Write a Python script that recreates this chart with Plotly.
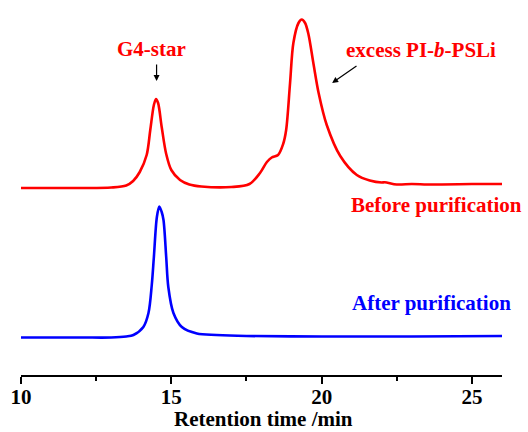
import plotly.graph_objects as go

# Retention time (min) and detector signal (arbitrary units, offset traces)
red_x = [10.0, 12.0, 13.0, 13.5, 13.73, 13.95, 14.18, 14.3, 14.42, 14.49, 14.56, 14.68, 14.83, 15.0,
         15.29, 15.6, 16.0, 17.0, 17.6, 17.95, 18.18, 18.34, 18.55, 18.72, 18.82, 18.95, 19.06,
         19.23, 19.34, 19.45, 19.56, 19.73, 19.9, 20.17, 20.62, 21.17, 21.6, 22.0, 22.1, 22.5,
         23.0, 23.5, 24.0, 25.0, 26.0]
red_v = [187, 187, 187.5, 189.5, 194, 203, 220, 245, 270, 276, 272, 248, 221, 205,
         195, 190.5, 188.5, 188, 191, 202, 213, 217.5, 220, 231, 245, 292, 332,
         352, 355.5, 352, 341, 311, 282, 250, 219, 200, 194.5, 192.5, 192.8, 190.5,
         191, 190.5, 190.5, 191, 191]

blue_x = [10.0, 12.0, 13.0, 13.5, 13.74, 14.07, 14.24, 14.35, 14.42, 14.52, 14.6, 14.68, 14.74,
          14.83, 14.9, 15.07, 15.35, 15.85, 16.5, 17.5, 20.0, 23.0, 26.0]
blue_v = [37.5, 37.5, 37.5, 38.5, 40, 48, 62, 90, 118, 158, 168.5, 163, 155,
          118, 88, 62, 48, 41.5, 40, 39, 38.5, 38.5, 39]

x_ticks = [10, 15, 20, 25]
x_title = "Retention time /min"

FONT = "Liberation Serif"

fig = go.Figure()
fig.add_trace(go.Scatter(x=red_x, y=red_v, mode="lines",
                         line=dict(color="#FF0000", width=2.6, shape="spline", smoothing=0.9),
                         showlegend=False, hoverinfo="skip"))
fig.add_trace(go.Scatter(x=blue_x, y=blue_v, mode="lines",
                         line=dict(color="#0000FF", width=2.6, shape="spline", smoothing=0.9),
                         showlegend=False, hoverinfo="skip"))

def label(text, x, y, color, size=21):
    fig.add_annotation(x=x, y=y, xref="x", yref="y", text=text,
                       showarrow=False, xanchor="center", yanchor="middle",
                       font=dict(family=FONT, size=size, color=color, weight="bold"))

label("G4-star", 14.34, 326, "#FF0000")
label("excess PI-<i>b</i>-PSLi", 23.31, 325, "#FF0000")
label("Before purification", 23.81, 170, "#FF0000")
label("After purification", 23.66, 72, "#0000FF")

# arrows
fig.add_annotation(x=14.51, y=294, ax=14.51, ay=312, xref="x", yref="y", axref="x", ayref="y",
                   text="", showarrow=True, arrowhead=2, arrowsize=1, arrowwidth=1.2,
                   arrowcolor="black")
fig.add_annotation(x=20.35, y=292, ax=21.21, ay=310, xref="x", yref="y", axref="x", ayref="y",
                   text="", showarrow=True, arrowhead=2, arrowsize=1, arrowwidth=1.2,
                   arrowcolor="black")

# axis title placed as annotation below the axis
fig.add_annotation(x=0.505, y=-0.116, xref="paper", yref="paper", text=x_title,
                   showarrow=False, xanchor="center", yanchor="middle",
                   font=dict(family=FONT, size=21, color="black", weight="bold"))

fig.update_xaxes(range=[10, 26], tickvals=x_ticks, ticktext=[str(t) for t in x_ticks],
                 showline=True, linecolor="black", linewidth=2, showgrid=False, zeroline=False,
                 ticks="outside", ticklen=7, tickwidth=2, tickcolor="black",
                 ticklabelstandoff=-5,
                 minor=dict(tickvals=[12.5, 17.5, 22.5], ticks="outside", ticklen=4,
                            tickwidth=2, tickcolor="black", showgrid=False),
                 tickfont=dict(family=FONT, size=21, color="black", weight="bold"))
fig.update_yaxes(range=[0, 375], visible=False, showgrid=False, zeroline=False)

fig.update_layout(width=528, height=432, margin=dict(l=21, r=26, t=0, b=57),
                  plot_bgcolor="white", paper_bgcolor="white")

fig.write_html("out.html")
